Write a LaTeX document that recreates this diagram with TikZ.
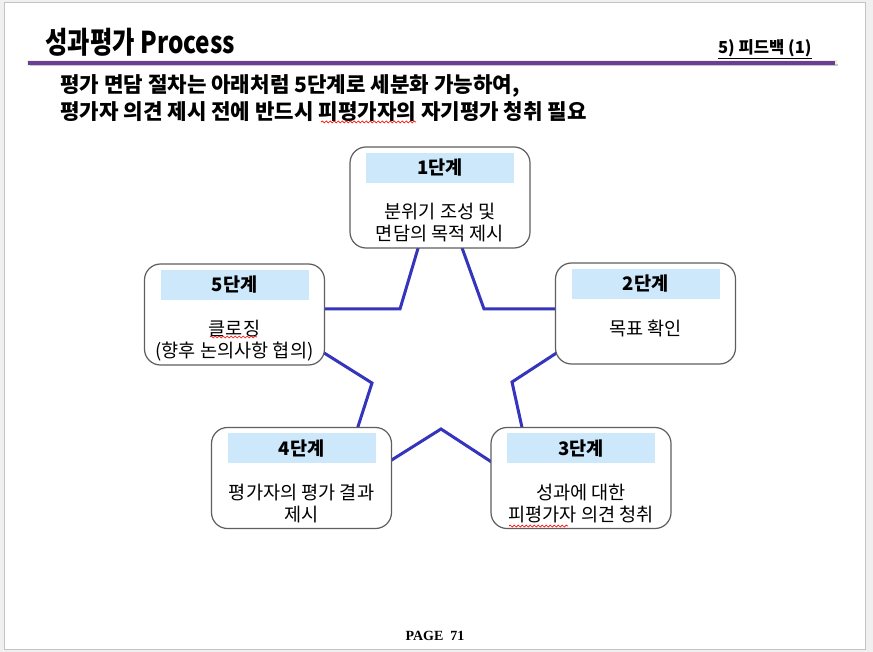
\documentclass[tikz,border=0pt]{standalone}
\usepackage{fontspec}
\setmainfont{Noto Sans CJK KR}
\newfontfamily\pagefont{Liberation Serif}
\usepackage{graphicx}
\usepackage{xcolor}
\usepackage{tikz}
\usetikzlibrary{positioning,decorations.pathmorphing}

\definecolor{pagebg}{HTML}{F0F0F0}
\definecolor{framegray}{HTML}{C4C4C4}
\definecolor{ruleglow}{HTML}{EEF3D6}
\definecolor{rulepurple}{HTML}{6A3D9A}
\definecolor{starblue}{HTML}{3434BC}
\definecolor{headblue}{HTML}{CDE8FB}
\definecolor{boxgray}{HTML}{5E5E5E}

\tikzset{
  stagebox/.style={draw=boxgray, fill=white, rounded corners=8pt, line width=0.6pt,
    minimum width=90pt, minimum height=50.5pt},
  stagehead/.style={fill=headblue, minimum width=74pt, minimum height=15pt, inner sep=0pt,
    font=\bfseries\fontsize{9.3}{11}\selectfont},
  stagetext/.style={align=center, inner sep=0pt, font=\fontsize{9.3}{11}\selectfont},
  starline/.style={starblue, line width=1.5pt},
  spellmark/.style={red, line width=0.35pt, decorate,
    decoration={snake, amplitude=0.5pt, segment length=2pt}}
}

\begin{document}
\begin{tikzpicture}[x=0.5pt, y=-0.5pt]

    % Page
    \fill[pagebg] (0,0) rectangle (873,652);
    \draw[framegray, fill=white, line width=0.5pt] (4,3) rectangle (865,649);
    \useasboundingbox (0,0) rectangle (873,652);

    % Title
    \draw[line width=3pt, ruleglow] (27,63) -- (837,63);
    \draw[line width=1.2pt, black!22] (30,65) -- (838,65);
    \draw[line width=1.6pt, rulepurple] (28,63) -- (835,63);
    \node[anchor=base west, inner sep=0pt, font=\bfseries\fontsize{15}{17}\selectfont]
      (title) at (45,54) {\scalebox{0.81}[1]{성과평가 Process}};
    \node[anchor=base east, inner sep=0pt, font=\bfseries\fontsize{8.3}{10}\selectfont]
      (section) at (812,54) {5) 피드백 (1)};
    \draw[line width=0.6pt] ([yshift=-2.2pt]section.base west) -- ([yshift=-2.2pt]section.base east);

    % Lead text
    \node[anchor=west, align=left, inner sep=0pt, font=\bfseries\fontsize{10.6}{13.5}\selectfont]
      (lead) at (60,98) {평가 면담 절차는 아래처럼 5단계로 세분화 가능하여,\\
        평가자 의견 제시 전에 반드시 피평가자의 자기평가 청취 필요};

    % Star
    \coordinate (tip1) at (438,181);
    \coordinate (tip2) at (624,309);
    \coordinate (tip3) at (536,491);
    \coordinate (tip4) at (336,495);
    \coordinate (tip5) at (254,309);
    \coordinate (in12) at (484,309);
    \coordinate (in23) at (512,382);
    \coordinate (in34) at (441,429);
    \coordinate (in45) at (372,383);
    \coordinate (in51) at (400,309);
    \draw[starline] (tip1) -- (in12) -- (tip2) -- (in23) -- (tip3) -- (in34)
      -- (tip4) -- (in45) -- (tip5) -- (in51) -- cycle;

    % Stages
    \foreach \n/\pos/\txt in {
        1/{440,197.5}/{분위기 조성 및\\면담의 목적 제시},
        2/{645.5,313.5}/{목표 확인},
        3/{581,478}/{성과에 대한\\피평가자 의견 청취},
        4/{301.5,478}/{평가자의 평가 결과\\제시},
        5/{234.5,314.5}/{클로징\\(향후 논의사항 협의)}} {
        \node[stagebox] (b\n) at (\pos) {};
        \node[stagehead, below=3pt of b\n.north] (h\n) {\n{}단계};
        \node[stagetext, below=10pt of h\n] (t\n) {\txt};
    }

    % Spelling marks
    \draw[spellmark] (321,122) -- (416,122);
    \draw[spellmark] (210,337) -- (257,337);
    \draw[spellmark] (509,526) -- (568,526);

    % Footer
    \node[font=\pagefont\bfseries\fontsize{7}{8}\selectfont] (pageno) at (435,636) {PAGE~~71};
\end{tikzpicture}
\end{document}
